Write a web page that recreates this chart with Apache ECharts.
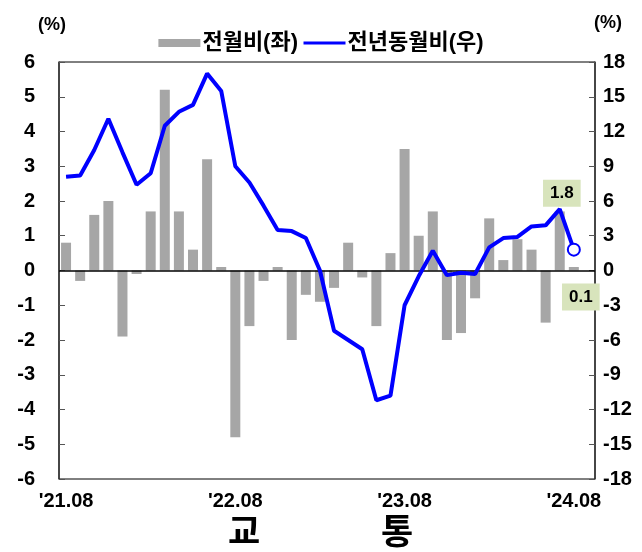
<!DOCTYPE html>
<html>
<head>
<meta charset="utf-8">
<script src="https://cdn.jsdelivr.net/npm/echarts@6/dist/echarts.min.js"></script>
<style>
html,body{margin:0;padding:0;background:#fff;}
#chart{width:642px;height:552px;}
</style>
</head>
<body>
<div id="chart"></div>
<script>
// categories: monthly, '21.08 ~ '24.08 (plus one empty slot at right)
const categories = [
  "'21.08","'21.09","'21.10","'21.11","'21.12","'22.01","'22.02","'22.03","'22.04","'22.05","'22.06","'22.07",
  "'22.08","'22.09","'22.10","'22.11","'22.12","'23.01","'23.02","'23.03","'23.04","'23.05","'23.06","'23.07",
  "'23.08","'23.09","'23.10","'23.11","'23.12","'24.01","'24.02","'24.03","'24.04","'24.05","'24.06","'24.07",
  "'24.08",""
];
const tickLabels = ["'21.08","'22.08","'23.08","'24.08"];
// 전월비 (left axis, %)
const momValues = [
  0.8,-0.3,1.6,2.0,-1.9,-0.1,1.7,5.2,1.7,0.6,3.2,0.1,
  -4.8,-1.6,-0.3,0.1,-2.0,-0.7,-0.9,-0.5,0.8,-0.2,-1.6,0.5,
  3.5,1.0,1.7,-2.0,-1.8,-0.8,1.5,0.3,0.9,0.6,-1.5,1.7,0.1
];
// 전년동월비 (right axis, %)
const yoyValues = [
  8.1,8.2,10.4,13.1,10.2,7.4,8.4,12.5,13.7,14.3,17.0,15.5,
  9.0,7.6,5.6,3.5,3.4,2.8,0.0,-5.2,-6.0,-6.8,-11.2,-10.8,
  -3.0,-0.5,1.7,-0.4,-0.2,-0.3,2.0,2.8,2.9,3.8,3.9,5.3,1.8
];
const leftTicks = {min:-6, max:6, interval:1};
const rightTicks = {min:-18, max:18, interval:3};
const seriesNames = ['전월비(좌)','전년동월비(우)'];
const titleChars = ['교','통'];

const FONT = "'Liberation Sans', 'Noto Sans CJK KR', sans-serif";
const lastIdx = momValues.length - 1;
const labelBox = {
  show:true, formatter:'{c}', color:'#000', fontFamily:FONT, fontWeight:'bold', fontSize:17,
  backgroundColor:'#d8e4bc', padding:[5,7]
};

const barData = momValues.map((v,i)=> i===lastIdx ? {value:v, label:Object.assign({}, labelBox, {position:'bottom', offset:[7,8]})} : v);
const lineData = yoyValues.map((v,i)=> i===lastIdx ? {
  value:v, symbol:'circle', symbolSize:12,
  itemStyle:{color:'#fff', borderColor:'#0000ff', borderWidth:2},
  label:Object.assign({}, labelBox, {position:'top', offset:[-12,-31]})
} : v);

const chart = echarts.init(document.getElementById('chart'), null, {renderer:'canvas'});
chart.setOption({
  animation:false,
  backgroundColor:'#fff',
  title:[
    {text:titleChars[0], left:223, top:512, textStyle:{fontFamily:FONT, fontWeight:'bold', fontSize:35, color:'#000'}},
    {text:titleChars[1], left:376, top:512, textStyle:{fontFamily:FONT, fontWeight:'bold', fontSize:35, color:'#000'}}
  ],
  legend:{
    top:27, left:'center', itemGap:4, itemWidth:42, itemHeight:8,
    textStyle:{fontFamily:FONT, fontWeight:'bold', fontSize:22, color:'#000', padding:[0,0,0,-3]},
    data:[
      {name:seriesNames[0], icon:'rect'},
      {name:seriesNames[1], itemStyle:{opacity:0}, lineStyle:{width:3, color:'#0000ff'}}
    ]
  },
  grid:{left:59, right:47, top:62, bottom:73, show:true, borderColor:'#000', borderWidth:1, backgroundColor:'transparent'},
  xAxis:{
    type:'category', data:categories, boundaryGap:true,
    axisLine:{show:false}, axisTick:{show:false},
    axisLabel:{
      interval:(i)=> tickLabels.indexOf(categories[i]) >= 0,
      margin:12, fontFamily:FONT, fontWeight:'bold', fontSize:20, color:'#000'
    },
    splitLine:{show:false}
  },
  yAxis:[
    {type:'value', position:'left', min:leftTicks.min, max:leftTicks.max, interval:leftTicks.interval,
     name:'(%)', nameLocation:'end', nameGap:28, nameTextStyle:{fontFamily:FONT, fontWeight:'bold', fontSize:18, color:'#000', padding:[0,14,0,0]},
     axisLine:{show:true, lineStyle:{color:'#333', width:1.5}},
     axisTick:{show:true, inside:true, length:6, lineStyle:{color:'#555'}},
     axisLabel:{margin:24, fontFamily:FONT, fontWeight:'bold', fontSize:20, color:'#000'},
     splitLine:{show:false}},
    {type:'value', position:'right', min:rightTicks.min, max:rightTicks.max, interval:rightTicks.interval,
     name:'(%)', nameLocation:'end', nameGap:30, nameTextStyle:{fontFamily:FONT, fontWeight:'bold', fontSize:18, color:'#000', padding:[0,0,0,26]},
     axisLine:{show:true, lineStyle:{color:'#333', width:1.5}},
     axisTick:{show:true, inside:true, length:6, lineStyle:{color:'#555'}},
     axisLabel:{margin:8, fontFamily:FONT, fontWeight:'bold', fontSize:20, color:'#000'},
     splitLine:{show:false}}
  ],
  series:[
    {name:seriesNames[0], type:'bar', yAxisIndex:0, data:barData, barWidth:10,
     itemStyle:{color:'#a6a6a6'},
     markLine:{silent:true, symbol:'none', label:{show:false}, lineStyle:{color:'#000', width:1.5, type:'solid'}, data:[{yAxis:0}]}},
    {name:seriesNames[1], type:'line', yAxisIndex:1, data:lineData, symbol:'none', showSymbol:true,
     lineStyle:{color:'#0000ff', width:4}, itemStyle:{color:'#0000ff'}, z:5}
  ]
});
</script>
</body>
</html>
